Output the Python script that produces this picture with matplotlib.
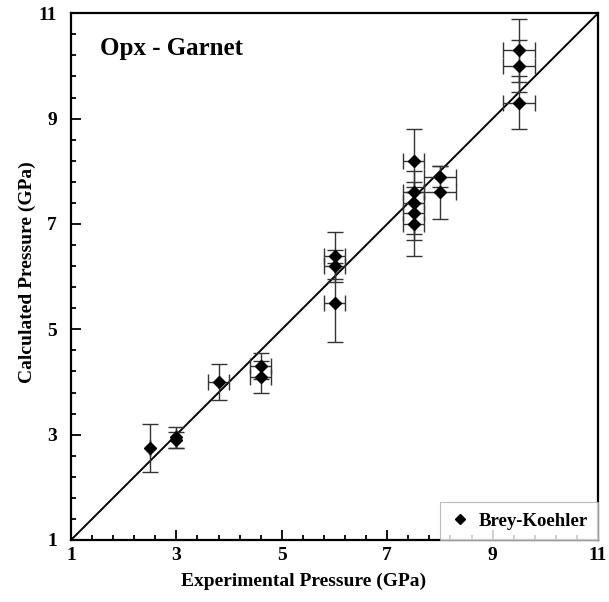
import numpy as np
import matplotlib.pyplot as plt
from matplotlib.ticker import FixedLocator

plt.rcParams['font.family'] = ['Liberation Serif', 'DejaVu Serif']
plt.rcParams['font.weight'] = 'bold'

# experimental vs calculated pressure (GPa), Brey-Koehler barometer
exp_p = [2.5, 3.0, 3.0, 3.8, 4.6, 4.6, 6.0, 6.0, 6.0,
         7.5, 7.5, 7.5, 7.5, 7.5, 8.0, 8.0, 9.5, 9.5, 9.5]
calc_p = [2.75, 2.9, 2.95, 4.0, 4.3, 4.1, 6.4, 6.2, 5.5,
          8.2, 7.6, 7.4, 7.2, 7.0, 7.9, 7.6, 10.3, 10.0, 9.3]
exp_err = [0, 0, 0, 0.2, 0.2, 0.2, 0.2, 0.2, 0.2,
           0.2, 0.2, 0.2, 0.2, 0.2, 0.3, 0.3, 0.3, 0.3, 0.3]
calc_err = [0.45, 0.15, 0.2, 0.35, 0.25, 0.3, 0.45, 0.3, 0.75,
            0.6, 0.2, 0.6, 0.5, 0.6, 0.2, 0.5, 0.6, 0.5, 0.5]

major_ticks = [1, 3, 5, 7, 9, 11]

fig = plt.figure(figsize=(6.09, 6.02), dpi=100)
ax = fig.add_axes([0.1166, 0.103, 0.8654, 0.875])

# 1:1 line
ax.plot([1, 11], [1, 11], color='black', lw=1.4, zorder=1)

ax.errorbar(exp_p, calc_p, xerr=exp_err, yerr=calc_err, fmt='none',
            ecolor='#333333', elinewidth=1.0, capsize=6, capthick=1.0, zorder=2)
ax.plot(exp_p, calc_p, 'D', color='black', ms=6, ls='none',
        label='Brey-Koehler', zorder=3)

ax.set_xlim(1, 11)
ax.set_ylim(1, 11)
ax.xaxis.set_major_locator(FixedLocator(major_ticks))
ax.yaxis.set_major_locator(FixedLocator(major_ticks))
ax.xaxis.set_minor_locator(FixedLocator(np.arange(1, 11.01, 0.4)))
ax.yaxis.set_minor_locator(FixedLocator(np.arange(1, 11.01, 0.4)))
ax.tick_params(which='both', direction='in', top=False, right=False,
               labelsize=14, width=1.3)
ax.tick_params(which='major', length=7)
ax.tick_params(which='minor', length=3.5)
ax.tick_params(axis='x', which='major', pad=5)
ax.tick_params(axis='y', which='major', pad=10)
for s in ax.spines.values():
    s.set_linewidth(1.6)

ax.set_xlabel('Experimental Pressure (GPa)', fontsize=14, fontweight='bold')
ax.set_ylabel('Calculated Pressure (GPa)', fontsize=14, fontweight='bold')
ax.xaxis.set_label_coords(0.442, -0.062)
ax.yaxis.set_label_coords(-0.066, 0.509)

ax.text(0.055, 0.955, 'Opx - Garnet', transform=ax.transAxes, fontsize=18,
        fontweight='bold', va='top', ha='left')

leg = ax.legend(loc='lower right', borderaxespad=0, fancybox=False,
                handletextpad=0.5, handlelength=1.0, borderpad=0.55,
                markerscale=0.85, prop={'weight': 'bold', 'size': 13.5})
leg.get_frame().set_edgecolor('#aaaaaa')
leg.get_frame().set_linewidth(0.8)

fig.savefig('out.png', dpi=100)
